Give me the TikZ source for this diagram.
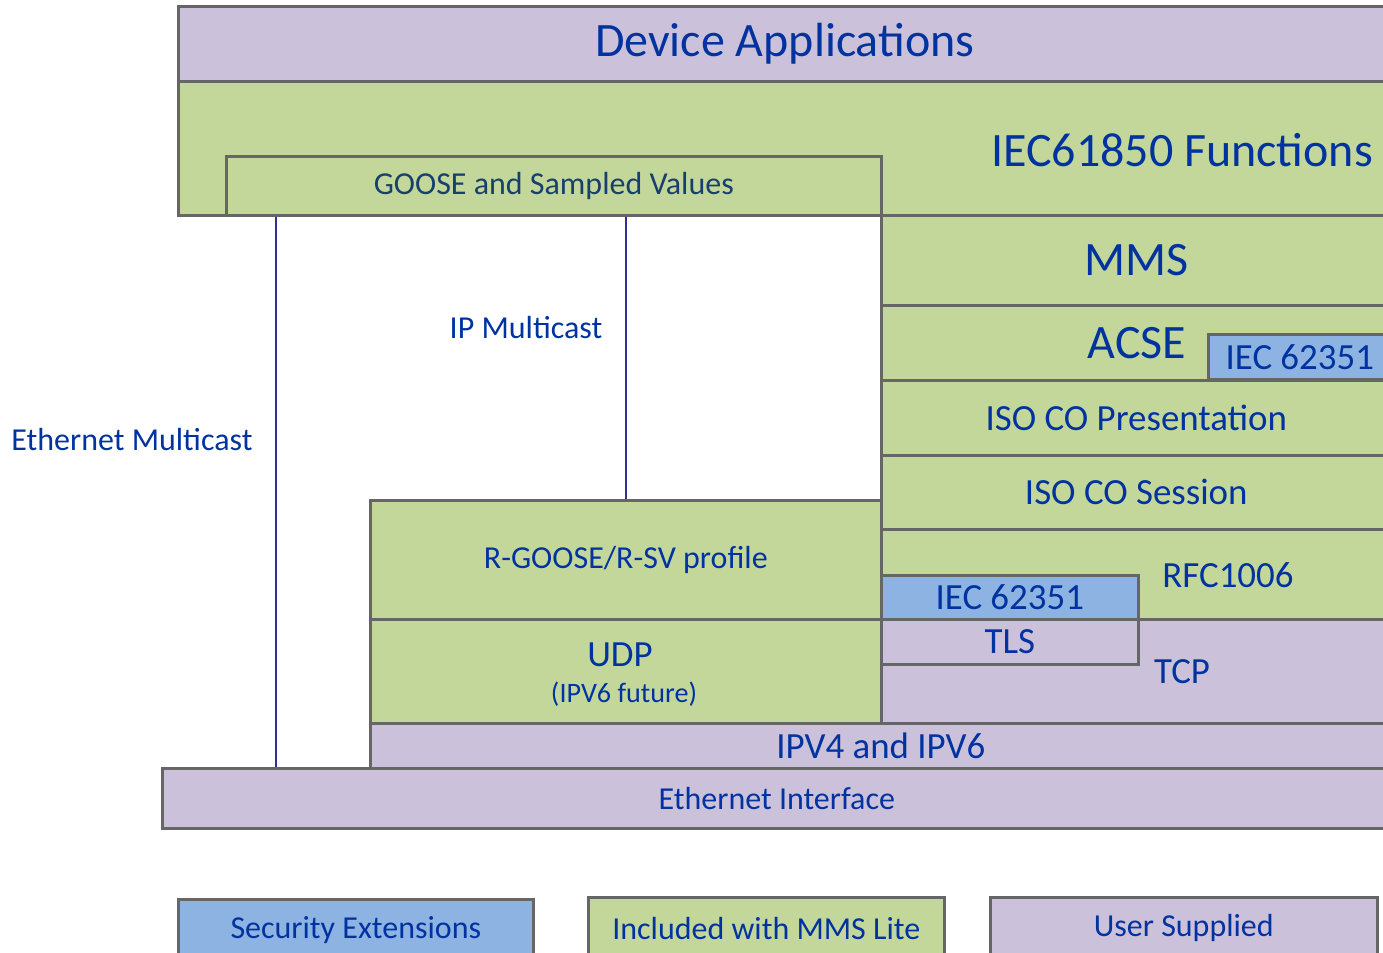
\documentclass[tikz,border=0pt]{standalone}
\usepackage{fontspec}
\setmainfont{Carlito}
\usepackage{xcolor}
\definecolor{LYpurple}{HTML}{CCC1DA}
\definecolor{LYgreen}{HTML}{C4D79B}
\definecolor{LYblue}{HTML}{8DB3E2}
\definecolor{LYborder}{HTML}{666666}
\definecolor{LYtext}{HTML}{0033A0}
\definecolor{LYdark}{HTML}{17406D}
\definecolor{LYline}{HTML}{2E3192}
\usepackage{tikz}
\usetikzlibrary{calc}

\begin{document}
\begin{tikzpicture}[
  x=0.2mm, y=-0.2mm,
  layer/.style={
    draw=LYborder, line width=1.5pt, inner sep=0pt, anchor=north west,
    align=center, text=LYtext, font=\fontsize{21}{24}\selectfont
  },
  boxw/.style={minimum width=#1*0.2mm},
  boxh/.style={minimum height=#1*0.2mm},
  purple/.style={layer, fill=LYpurple},
  green/.style={layer, fill=LYgreen},
  blue/.style={layer, fill=LYblue},
  big/.style={font=\fontsize{27.3}{32}\selectfont},
  mid/.style={font=\fontsize{18.2}{22}\selectfont},
  txt/.style={text=LYtext, font=\fontsize{21}{24}\selectfont},
  link/.style={draw=LYline, line width=1.4pt},
]
\useasboundingbox (0,0) rectangle (1383,953);

% Top of the stack
\node[purple, big, boxw=1213, boxh=75] (app) at (177,5) {Device Applications};
\node[green, boxw=1213, boxh=134] (func) at (177,80) {};
\node[txt, big] (functxt) at (1182,150) {IEC61850 Functions};
\node[green, mid, text=LYdark, boxw=655, boxh=59] (goose) at (225,155) {GOOSE and Sampled Values};

% MMS side
\node[green, big, boxw=510, boxh=90] (mms) at (880,214) {MMS};
\node[green, boxw=510, boxh=75] (acse) at (880,304) {};
\node[txt, big] (acsetxt) at (1137,343) {ACSE};
\node[blue, boxw=183, boxh=45] (secacse) at (1207,333) {IEC 62351};
\node[green, boxw=510, boxh=75] (pres) at (880,379) {ISO CO Presentation};
\node[green, boxw=510, boxh=74] (sess) at (880,454) {ISO CO Session};
\node[green, boxw=510, boxh=90] (rfc) at (880,528) {};
\node[txt] (rfctxt) at (1228,575) {RFC1006};
\node[blue, boxw=257, boxh=44] (sectls) at (880,574) {IEC 62351};
\node[purple, boxw=510, boxh=104] (tcp) at (880,618) {};
\node[txt] (tcptxt) at (1182,672) {TCP};
\node[purple, boxw=257, boxh=45] (tls) at (880,618) {TLS};

% Routable GOOSE / SV
\node[green, mid, boxw=511, boxh=119] (rgoose) at (369,499) {R-GOOSE/R-SV profile};
\node[green, boxw=511, boxh=104] (udp) at (369,618) {};
\node[txt] (udptxt) at (620,655) {UDP};
\node[txt, font=\fontsize{16}{19}\selectfont] (udpnote) at (624,694) {(IPV6 future)};

% Network and link
\node[purple, boxw=1021, boxh=45] (ip) at (369,722) {IPV4 and IPV6};
\node[purple, mid, boxw=1229, boxh=60] (eth) at (161,767) {Ethernet Interface};

% Multicast paths
\draw[link] ([xshift=51*0.2mm]goose.south west) -- ([xshift=51*0.2mm]goose.south west |- eth.north);
\draw[link] (rgoose.north) -- (rgoose.north |- goose.south);
\node[txt, mid] (ipmc) at (526,328) {IP Multicast};
\node[txt, mid] (ethmc) at (132,440) {Ethernet Multicast};

% Legend
\node[blue, mid, boxw=355, boxh=62] (legsec) at (177,898) {Security Extensions};
\node[green, mid, boxw=356, boxh=62] (leglite) at (587,896) {Included with MMS Lite};
\node[purple, mid, boxw=387, boxh=62] (leguser) at (989,896) {User Supplied};

\end{tikzpicture}
\end{document}
